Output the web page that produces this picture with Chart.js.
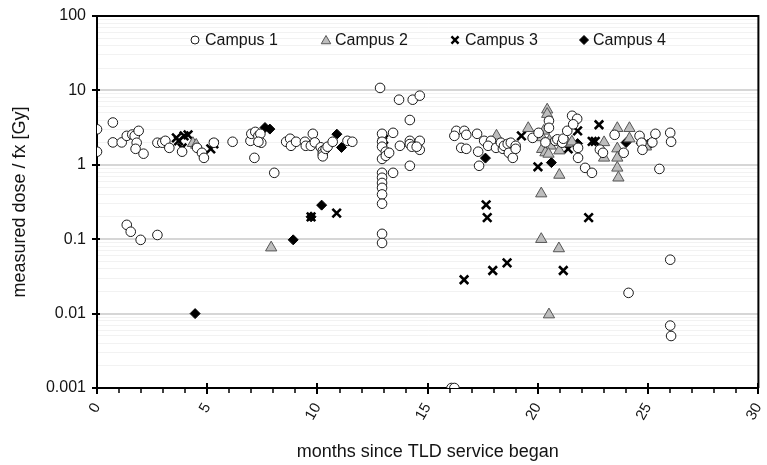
<!DOCTYPE html>
<html><head><meta charset="utf-8">
<script src="https://cdn.jsdelivr.net/npm/chart.js@4/dist/chart.umd.min.js"></script>
<style>html,body{margin:0;padding:0;background:#fff;}canvas{display:block;}</style>
</head><body>
<canvas id="c" width="767" height="465"></canvas>
<script>
// ---- data (months since TLD service began, measured dose / fx [Gy]) ----
const seriesNames = ['Campus 1', 'Campus 2', 'Campus 3', 'Campus 4'];
const xTickLabels = ['0', '5', '10', '15', '20', '25', '30'];
const yTickLabels = ['0.001', '0.01', '0.1', '1', '10', '100'];

const campus1 = [
  [0,3.0],[0,1.5],[0.72,3.7],[0.72,2.0],[1.12,2.0],[1.35,2.45],[1.6,2.55],[1.71,2.45],[1.89,2.86],[1.8,1.98],[1.75,1.64],[2.11,1.41],
  [1.35,0.156],[1.53,0.126],[1.98,0.098],[2.74,0.114],
  [2.74,1.98],[2.96,1.98],[3.1,2.1],[3.28,1.69],[3.86,1.5],[4.54,1.69],[4.76,1.45],[4.85,1.24],[5.3,1.98],[6.15,2.04],
  [6.96,2.1],[7.14,1.24],[7.0,2.61],[7.18,2.77],[7.32,2.45],[7.41,2.61],[7.45,1.98],[7.32,2.04],
  [8.04,0.78],
  [8.58,2.04],[8.76,2.24],[8.8,1.8],[9.03,2.04],[9.43,2.04],[9.47,1.8],[9.7,1.8],[9.79,2.61],[9.88,2.0],
  [10.15,1.72],[10.24,1.54],[10.24,1.4],[10.24,1.3],[10.37,1.64],[10.46,1.75],[10.69,2.04],[11.36,2.1],[11.58,2.04],
  [12.84,10.8],[12.93,2.61],[12.93,2.04],[12.93,1.75],[12.93,1.2],[12.93,0.78],[12.93,0.67],[12.93,0.57],[12.93,0.49],
  [12.93,0.4],[12.93,0.3],[12.93,0.118],[12.93,0.089],[13.1,1.5],[13.1,1.32],[13.43,2.69],[13.25,1.45],[13.43,0.78],
  [13.7,7.5],[13.74,1.8],[14.19,4.0],[14.19,0.97],[14.19,2.1],[14.19,1.9],[14.28,1.75],[14.32,7.5],[14.64,8.5],
  [14.64,2.1],[14.64,1.59],[14.5,1.75],
  [16.08,0.001],[16.21,0.001],
  [16.3,2.86],[16.21,2.45],[16.66,2.86],[16.75,2.53],[17.24,2.61],[16.52,1.69],[16.75,1.64],[17.29,1.5],[17.33,0.97],
  [17.56,2.1],[17.87,2.1],[17.74,1.8],[18.1,1.69],[18.32,1.98],[18.41,1.64],[18.46,1.8],[18.63,1.91],[18.68,1.45],
  [18.77,1.98],[18.86,1.24],[18.99,1.8],[18.99,1.64],
  [19.76,2.3],[20.03,2.69],[20.5,3.9],[20.5,3.14],[20.34,2.0],[20.79,2.1],[20.88,2.2],[21.1,1.98],[21.15,2.24],
  [21.33,2.86],[21.55,4.56],[21.78,4.15],[21.6,3.5],[21.82,1.69],[21.82,1.24],[22.14,0.91],[22.45,0.78],
  [22.81,1.6],[22.95,1.45],[23.48,2.53],[23.89,1.45],[24.61,2.45],[24.7,1.98],[24.74,1.59],[25.19,2.0],
  [25.33,2.61],[25.51,0.88],[26.0,2.69],[26.04,2.04],[26.0,0.053],[24.11,0.019],[26.0,0.0069],[26.04,0.005]
];

const campus2 = [
  [4.35,1.95],[4.5,1.85],[7.9,0.077],[18.12,2.45],[19.56,3.1],[20.42,5.5],[20.42,4.8],[20.27,2.86],[20.19,2.33],
  [20.52,2.1],[20.57,1.8],[20.19,1.62],[20.34,1.46],[20.48,1.4],[20.97,1.55],[20.97,0.73],[21.36,1.94],[21.54,2.04],
  [20.15,0.41],[20.15,0.1],[20.95,0.075],[20.5,0.0097],[23.0,2.0],[23.0,1.24],[23.6,3.1],[23.6,1.65],[23.6,1.24],
  [23.6,0.91],[23.65,0.67],[24.15,3.1],[24.15,2.25],[24.9,1.75]
];

const campus3 = [
  [3.6,2.3],[3.7,2.1],[3.95,2.45],[4.13,2.53],[3.86,1.69],[5.16,1.64],[5.3,1.91],[9.71,0.2],[10.87,0.224],
  [12.95,2.04],[13.0,2.2],[16.65,0.0285],[17.65,0.29],[17.7,0.195],[17.95,0.038],[18.6,0.048],[19.25,2.45],
  [20.0,0.94],[21.15,0.038],[21.37,1.64],[21.8,2.86],[22.3,0.195],[22.46,2.06],[22.6,2.06],[22.77,3.45]
];

const campus4 = [
  [4.45,0.01],[7.62,3.17],[7.84,3.02],[8.9,0.098],[9.71,0.2],[10.19,0.287],[10.88,2.58],[11.09,1.71],
  [17.62,1.23],[20.61,1.07],[21.8,1.93],[24.0,1.99],[24.68,1.95],[24.83,1.93],[25.01,1.9],[25.13,1.95]
];

// ---- chart ----
const FONT = "'Liberation Sans', Arial, sans-serif";
const TXT = '#141414';
const toPts = arr => arr.map(p => ({x: p[0], y: p[1]}));

const styles = [
  {pointStyle: 'circle', pointRadius: 4.8, backgroundColor: '#ffffff', borderColor: '#1a1a1a', pointBorderWidth: 1},
  {pointStyle: 'triangle', pointRadius: 6.5, backgroundColor: '#bdbdbd', borderColor: '#555555', pointBorderWidth: 1},
  {pointStyle: 'crossRot', pointRadius: 6, backgroundColor: '#000', borderColor: '#000', pointBorderWidth: 2.6},
  {pointStyle: 'rectRot', pointRadius: 5, backgroundColor: '#000', borderColor: '#000', pointBorderWidth: 1}
];
const allSeries = [campus1, campus2, campus3, campus4];

const datasets = allSeries.map((s, i) => Object.assign({
  label: seriesNames[i],
  data: toPts(s),
  showLine: false,
  pointHoverRadius: styles[i].pointRadius
}, styles[i]));

// y ticks: decades labelled, 2..9 minor grid
const yVals = [];
for (let e = -3; e <= 2; e++) {
  for (let m = 1; m <= 9; m++) {
    const v = Number((m * Math.pow(10, e)).toPrecision(10));
    if (v <= 100) yVals.push(v);
  }
}
const isDecade = v => Math.abs(Math.log10(v) - Math.round(Math.log10(v))) < 1e-9;

const framePlugin = {
  id: 'frame',
  afterDatasetsDraw(chart) {
    const {ctx, chartArea: a, scales: {x, y}} = chart;
    ctx.save();
    ctx.strokeStyle = '#000';
    ctx.lineWidth = 2;
    ctx.beginPath();
    ctx.moveTo(a.left, a.top); ctx.lineTo(a.right, a.top); ctx.lineTo(a.right, a.bottom);
    ctx.stroke();
    for (let m = 0; m <= 30; m++) {
      const px = Math.round(x.getPixelForValue(m));
      ctx.lineWidth = m % 5 === 0 ? 2 : 1.5;
      ctx.beginPath();
      if (m % 5 === 0) { ctx.moveTo(px, a.bottom - 5); ctx.lineTo(px, a.bottom + 6); }
      else { ctx.moveTo(px, a.bottom); ctx.lineTo(px, a.bottom + 5); }
      ctx.stroke();
    }
    ctx.lineWidth = 2;
    for (let e = -3; e <= 2; e++) {
      const py = Math.round(y.getPixelForValue(Math.pow(10, e)));
      ctx.beginPath(); ctx.moveTo(a.left - 5, py); ctx.lineTo(a.left + 3, py); ctx.stroke();
    }
    ctx.restore();
  },
  afterDraw(chart) {
    const {ctx} = chart;
    ctx.save();
    ctx.font = '16px ' + FONT;
    ctx.textBaseline = 'middle';
    ctx.textAlign = 'left';
    const markerX = [195, 326, 455, 584];
    const textX = [205, 335, 465, 593];
    const cy = 40;
    const legendStyles = [
      {pointStyle: 'circle', radius: 4, fill: '#fff', stroke: '#1a1a1a', bw: 1},
      {pointStyle: 'triangle', radius: 5.5, fill: '#bdbdbd', stroke: '#555', bw: 1},
      {pointStyle: 'crossRot', radius: 5, fill: '#000', stroke: '#000', bw: 2.4},
      {pointStyle: 'rectRot', radius: 4.5, fill: '#000', stroke: '#000', bw: 1}
    ];
    seriesNames.forEach((n, i) => {
      const st = legendStyles[i];
      ctx.fillStyle = st.fill; ctx.strokeStyle = st.stroke; ctx.lineWidth = st.bw;
      Chart.helpers.drawPoint(ctx, {pointStyle: st.pointStyle, radius: st.radius, rotation: 0, borderWidth: st.bw}, markerX[i], cy + (i === 1 ? 1 : 0));
      ctx.fillStyle = TXT;
      ctx.fillText(n, textX[i], cy + 1);
    });
    ctx.restore();
  }
};

new Chart(document.getElementById('c'), {
  type: 'scatter',
  data: {datasets},
  plugins: [framePlugin],
  options: {
    responsive: false,
    animation: false,
    devicePixelRatio: 1,
    layout: {padding: {top: 16, right: 2, left: 0, bottom: 0}},
    plugins: {legend: {display: false}, tooltip: {enabled: false}},
    scales: {
      x: {
        type: 'linear', min: 0, max: 30,
        afterBuildTicks: s => { s.ticks = []; for (let m = 0; m <= 30; m++) s.ticks.push({value: m}); },
        afterFit: s => { s.height = 77; s.paddingLeft = 0; s.paddingRight = 0; },
        ticks: {
          autoSkip: false, minRotation: 60, maxRotation: 60, padding: 4,
          color: TXT, font: {family: FONT, size: 15},
          callback: v => (v % 5 === 0 ? xTickLabels[v / 5] : '')
        },
        grid: {drawOnChartArea: false, tickLength: 8, tickColor: 'rgba(0,0,0,0)'},
        border: {color: '#000', width: 2},
        title: {display: true, text: 'months since TLD service began', color: TXT,
                font: {family: FONT, size: 18}, padding: {top: 0, bottom: 2}}
      },
      y: {
        type: 'logarithmic', min: 0.001, max: 100,
        afterBuildTicks: s => { s.ticks = yVals.map(v => ({value: v})); },
        afterFit: s => { s.width = 97; s.paddingTop = 0; s.paddingBottom = 0; },
        ticks: {
          autoSkip: false, padding: 3, color: TXT, font: {family: FONT, size: 16},
          callback: v => isDecade(v) ? yTickLabels[Math.round(Math.log10(v)) + 3] : ''
        },
        grid: {
          tickLength: 8, tickColor: 'rgba(0,0,0,0)',
          color: c => (c.tick && isDecade(c.tick.value)) ? '#d6d6d6' : '#f2f2f2',
          lineWidth: c => (c.tick && isDecade(c.tick.value)) ? 2 : 1
        },
        border: {color: '#000', width: 2},
        title: {display: true, text: 'measured dose / fx [Gy]', color: TXT,
                font: {family: FONT, size: 18}, padding: {top: 9, bottom: 0}}
      }
    }
  }
});
</script>
</body></html>
